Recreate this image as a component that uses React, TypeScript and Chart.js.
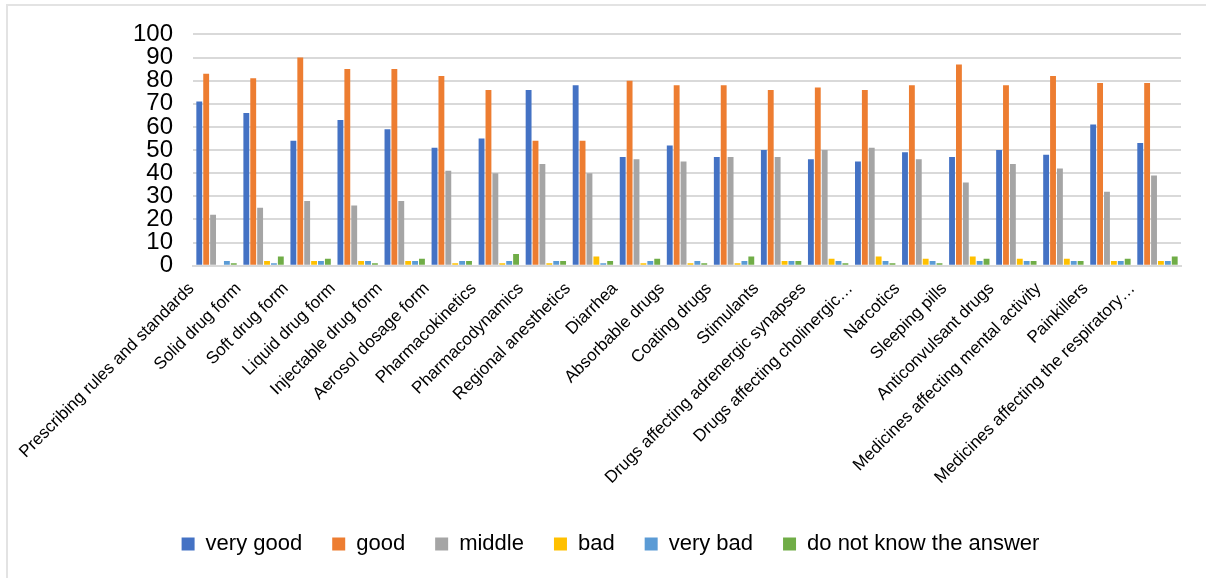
import React, { useEffect, useRef } from "react";
import { Chart, registerables } from "chart.js";

Chart.register(...registerables);

const categories = [
  "Prescribing rules and standards",
  "Solid drug form",
  "Soft drug form",
  "Liquid drug form",
  "Injectable drug form",
  "Aerosol dosage form",
  "Pharmacokinetics",
  "Pharmacodynamics",
  "Regional anesthetics",
  "Diarrhea",
  "Absorbable drugs",
  "Coating drugs",
  "Stimulants",
  "Drugs affecting adrenergic synapses",
  "Drugs affecting cholinergic…",
  "Narcotics",
  "Sleeping pills",
  "Anticonvulsant drugs",
  "Medicines affecting mental activity",
  "Painkillers",
  "Medicines affecting the respiratory…",
];

const veryGood = [71, 66, 54, 63, 59, 51, 55, 76, 78, 47, 52, 47, 50, 46, 45, 49, 47, 50, 48, 61, 53];
const good = [83, 81, 90, 85, 85, 82, 76, 54, 54, 80, 78, 78, 76, 77, 76, 78, 87, 78, 82, 79, 79];
const middle = [22, 25, 28, 26, 28, 41, 40, 44, 40, 46, 45, 47, 47, 50, 51, 46, 36, 44, 42, 32, 39];
const bad = [0, 2, 2, 2, 2, 1, 1, 1, 4, 1, 1, 1, 2, 3, 4, 3, 4, 3, 3, 2, 2];
const veryBad = [2, 1, 2, 2, 2, 2, 2, 2, 1, 2, 2, 2, 2, 2, 2, 2, 2, 2, 2, 2, 2];
const dontKnow = [1, 4, 3, 1, 3, 2, 5, 2, 2, 3, 1, 4, 2, 1, 1, 1, 3, 2, 2, 3, 4];

const yTicks = [0, 10, 20, 30, 40, 50, 60, 70, 80, 90, 100];

const seriesNames = ["very good", "good", "middle", "bad", "very bad", "do not know the answer"];
const seriesColors = ["#4472C4", "#ED7D31", "#A5A5A5", "#FFC000", "#5B9BD5", "#70AD47"];
const seriesData = [veryGood, good, middle, bad, veryBad, dontKnow];

export default function App() {
  const ref = useRef<HTMLCanvasElement | null>(null);

  useEffect(() => {
    if (!ref.current) return;
    const legendPad = {
      id: "legendPad",
      beforeInit(chart: any) {
        const orig = chart.legend.fit;
        chart.legend.fit = function () {
          orig.bind(chart.legend)();
          this.height += 13;
        };
      },
    };
    const chart = new Chart(ref.current, {
      type: "bar",
      data: {
        labels: categories,
        datasets: seriesData.map((d, i) => ({
          label: seriesNames[i],
          data: d,
          backgroundColor: seriesColors[i],
          borderWidth: 0,
          barPercentage: 0.85,
          categoryPercentage: 0.88,
        })),
      },
      options: {
        animation: false,
        responsive: false,
        maintainAspectRatio: false,
        layout: { padding: { left: 40, right: 25, top: 21, bottom: 0 } },
        plugins: {
          legend: {
            position: "bottom",
            labels: {
              font: { family: "Liberation Sans", size: 22 },
              color: "#000",
              boxWidth: 13,
              boxHeight: 13,
              padding: 30,
            },
          },
          tooltip: { enabled: false },
        },
        scales: {
          x: {
            grid: { display: false, drawTicks: false },
            border: { color: "#d9d9d9", width: 2 },
            afterFit(axis: any) {
              axis.height += 2;
            },
            ticks: {
              autoSkip: false,
              maxRotation: 45,
              minRotation: 45,
              padding: 13,
              labelOffset: -25,
              color: "#000",
              font: { family: "Liberation Sans", size: 17 },
            },
          },
          y: {
            min: 0,
            max: 100,
            afterBuildTicks(axis: any) {
              axis.ticks = yTicks.map((v) => ({ value: v }));
            },
            afterFit(axis: any) {
              axis.width = 153;
            },
            grid: { color: "#d9d9d9", lineWidth: 2, drawTicks: false },
            border: { display: false },
            ticks: {
              autoSkip: false,
              padding: 20,
              color: "#000",
              font: { family: "Liberation Sans", size: 24 },
            },
          },
        },
      },
      plugins: [legendPad],
    });
    return () => chart.destroy();
  }, []);

  return (
    <div style={{ position: "fixed", left: 0, top: 0, width: 1206, height: 578, background: "#fff" }}>
      <div
        style={{
          position: "absolute",
          left: 6,
          top: 4,
          width: 1210,
          height: 590,
          border: "2px solid #e3e3e3",
          boxSizing: "border-box",
        }}
      />
      <canvas ref={ref} width={1206} height={578} style={{ position: "absolute", left: 0, top: 0 }} />
    </div>
  );
}
